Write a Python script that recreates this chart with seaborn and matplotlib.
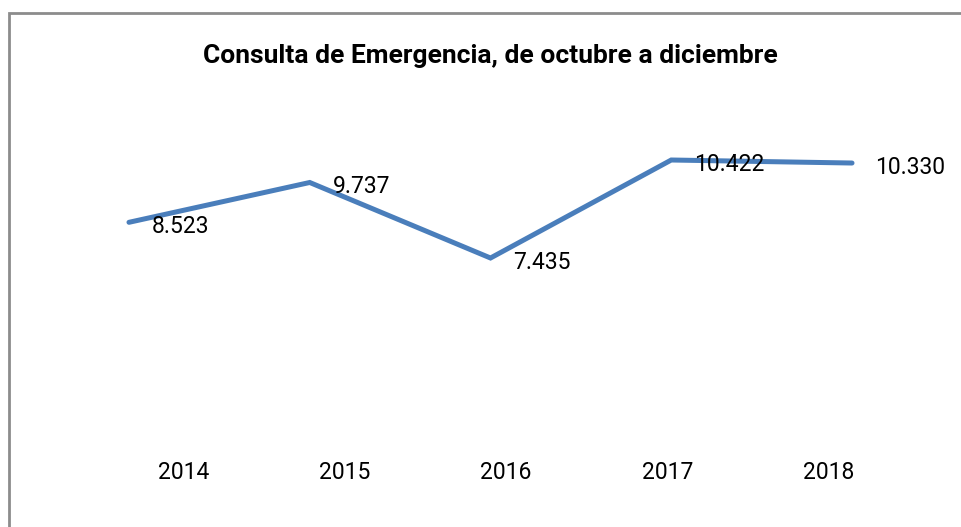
import matplotlib
matplotlib.use("Agg")
import matplotlib.pyplot as plt
import numpy as np
import seaborn as sns
from matplotlib.patches import Rectangle

years = ["2014", "2015", "2016", "2017", "2018"]
consultas = [8523, 9737, 7435, 10422, 10330]
labels = ["8.523", "9.737", "7.435", "10.422", "10.330"]
title = "Consulta de Emergencia, de octubre a diciembre"

FONT = ["Roboto", "DejaVu Sans"]
LINE_COLOR = "#4a7ebb"


def main():
    sns.set_style("white")
    plt.rcParams["font.family"] = FONT

    W, H = 961, 527
    fig = plt.figure(figsize=(W / 100, H / 100), dpi=100)

    # plot area in pixels: left, top, right, bottom
    left, top, right, bottom = 38.6, 100, 942.4, 440
    ax = fig.add_axes([left / W, 1 - bottom / H, (right - left) / W, (bottom - top) / H])

    x = np.arange(len(years))
    sns.lineplot(x=x, y=consultas, ax=ax, color=LINE_COLOR, linewidth=3.6,
                 solid_capstyle="round", solid_joinstyle="miter")

    for xi, v, lab in zip(x, consultas, labels):
        ax.annotate(lab, (xi, v), xytext=(23, -4), textcoords="offset pixels",
                    ha="left", va="center", fontsize=16.5, color="black")

    ax.set_xlim(-0.5, len(years) - 0.5)
    ax.set_ylim(1888, 12251)
    # the category labels sit a bit inward of the points, as in the source
    ax.set_xticks(0.30 + 0.8925 * x)
    ax.set_xticklabels(years, fontsize=16.5, color="black")
    ax.set_yticks([])
    ax.tick_params(axis="x", length=0, pad=15)
    for s in ax.spines.values():
        s.set_visible(False)

    fig.text(490 / W, 1 - 56 / H, title, ha="center", va="center",
             fontsize=19, fontweight="bold", color="black")

    # chart frame, cut off on the right and bottom
    fig.patches.append(Rectangle((8.5 / W, -0.1), 1.1, 1 - 12.5 / H + 0.1,
                                 transform=fig.transFigure, fill=False,
                                 edgecolor="#8c8c8c", linewidth=2))

    fig.savefig("out.png", dpi=100)


if __name__ == "__main__":
    main()
